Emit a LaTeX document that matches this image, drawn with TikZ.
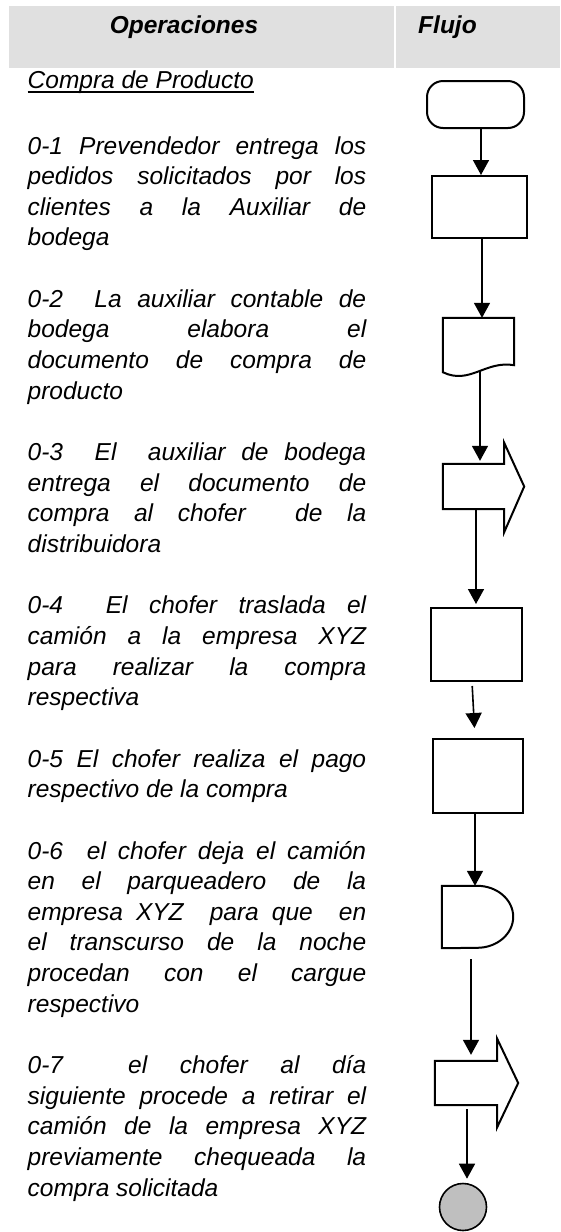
\documentclass[tikz,border=0pt]{standalone}
\usepackage{fontspec}
\setmainfont{Liberation Sans}
\usetikzlibrary{arrows.meta}
\tolerance=10000
\hyphenpenalty=10000

\begin{document}
\begin{tikzpicture}[x=1pt, y=-1pt,
  titulo/.style={anchor=base, inner sep=0pt, font=\bfseries\itshape\fontsize{24.5}{29}\selectfont},
  oper/.style={anchor=base west, inner sep=0pt, text width=338.5pt, align=justify,
    font=\itshape\fontsize{24.5}{30.65}\selectfont},
  caja/.style={draw, line width=2pt, inner sep=0pt},
  marco/.style={inner sep=0pt},
  figura/.style={line width=2pt},
  flujo/.style={-{Triangle[width=16pt,length=15pt]}, line width=1.6pt},
]
\useasboundingbox (0,0) rectangle (560,1232);

% encabezado
\fill[black!12] (9,6) rectangle (394,68);
\fill[black!12] (396,6) rectangle (560,68);
\node[titulo] (operaciones) at (184,33) {Operaciones};
\node[titulo] (flujo) at (447.5,33) {Flujo};

% operaciones
\node[anchor=base west, inner sep=0pt, font=\itshape\fontsize{24.5}{30.65}\selectfont] (compra) at (27.5,88) {Compra de Producto};
\draw[line width=1.4pt] ([yshift=-4pt]compra.base west) -- ([yshift=-4pt]compra.base east);

\node[oper] (op1) at (27.5,154) {0-1 Prevendedor entrega los\linebreak
pedidos solicitados por los\linebreak
clientes a la Auxiliar de\linebreak
bodega};
\node[oper] (op2) at (27.5,307.3) {0-2\ \ La auxiliar contable de\linebreak
bodega elabora el\linebreak
documento de compra de\linebreak
producto};
\node[oper] (op3) at (27.5,460.5) {0-3\ \ El\ \ auxiliar de bodega\linebreak
entrega el documento de\linebreak
compra al chofer\ \ de la\linebreak
distribuidora};
\node[oper] (op4) at (27.5,613.8) {0-4\ \ El chofer traslada el\linebreak
camión a la empresa XYZ\linebreak
para realizar la compra\linebreak
respectiva};
\node[oper] (op5) at (27.5,767) {0-5 El chofer realiza el pago\linebreak
respectivo de la compra};
\node[oper] (op6) at (27.5,859) {0-6\ \ el chofer deja el camión\linebreak
en el parqueadero de la\linebreak
empresa XYZ\ \ para que\ \ en\linebreak
el transcurso de la noche\linebreak
procedan con el cargue\linebreak
respectivo};
\node[oper] (op7) at (27.5,1073.5) {0-7\ \ el chofer al día\linebreak
siguiente procede a retirar el\linebreak
camión de la empresa XYZ\linebreak
previamente chequeada la\linebreak
compra solicitada};

% flujo
\node[caja, rounded corners=16pt, minimum width=97pt, minimum height=47pt] (inicio) at (475.5,104.5) {};
\node[caja, minimum width=95pt, minimum height=62pt] (pedidos) at (479.5,207) {};
\node[marco, minimum width=71pt, minimum height=47pt] (documento) at (478.5,341.5) {};
\node[marco, minimum width=61pt, minimum height=45pt] (envio) at (473.5,486.5) {};
\node[caja, minimum width=91pt, minimum height=73pt] (traslado) at (476.5,644.5) {};
\node[caja, minimum width=90pt, minimum height=74pt] (pago) at (478,776) {};
\node[marco, minimum width=71pt, minimum height=62pt] (espera) at (477.5,917) {};
\node[marco, minimum width=62pt, minimum height=44pt] (retiro) at (466,1083) {};
\node[caja, circle, fill=black!25, minimum size=47pt, line width=1.6pt] (fin) at (463,1207) {};

\draw[figura] (documento.south east) .. controls ([xshift=-29pt,yshift=5pt]documento.south east) and ([xshift=27pt,yshift=-20pt]documento.south west) .. ([yshift=-7pt]documento.south west) -- (documento.north west) -- (documento.north east) -- cycle;
\draw[figura] (envio.north west) -- (envio.north east) -- ++(0,-21) -- ([xshift=20pt]envio.east) -- ([yshift=-23pt]envio.south east) -- (envio.south east) -- (envio.south west) -- cycle;
\draw[figura] (espera.north west) -- ([xshift=-36pt]espera.north east) arc[start angle=90, end angle=-90, x radius=36pt, y radius=31pt] -- (espera.south west) -- cycle;
\draw[figura] (retiro.north west) -- (retiro.north east) -- ++(0,-22) -- ([xshift=21pt]retiro.east) -- ([yshift=-22pt]retiro.south east) -- (retiro.south east) -- (retiro.south west) -- cycle;

\draw[flujo] ([xshift=5.5pt]inicio.south) -- ([xshift=1.5pt]pedidos.north);
\draw[flujo] ([xshift=2.5pt]pedidos.south) -- ([xshift=3.5pt]documento.north);
\draw[flujo, shorten >=3pt] ([xshift=1.5pt,yshift=-6pt]documento.south) -- ([xshift=6.5pt]envio.north);
\draw[flujo, shorten >=3pt] ([xshift=2.5pt]envio.south) -- ([xshift=-0.5pt]traslado.north);
\draw[flujo, shorten <=4pt, shorten >=10pt] ([xshift=-4.5pt]traslado.south) -- ([xshift=-3pt]pago.north);
\draw[flujo] ([xshift=-3pt]pago.south) -- ([xshift=-2.5pt]espera.north);
\draw[flujo, shorten <=11pt, shorten >=6pt] ([xshift=-6.5pt]espera.south) -- ([xshift=5pt]retiro.north);
\draw[flujo, shorten <=4pt, shorten >=4pt] ([xshift=1pt]retiro.south) -- ([xshift=4pt]fin.north);
\end{tikzpicture}
\end{document}
